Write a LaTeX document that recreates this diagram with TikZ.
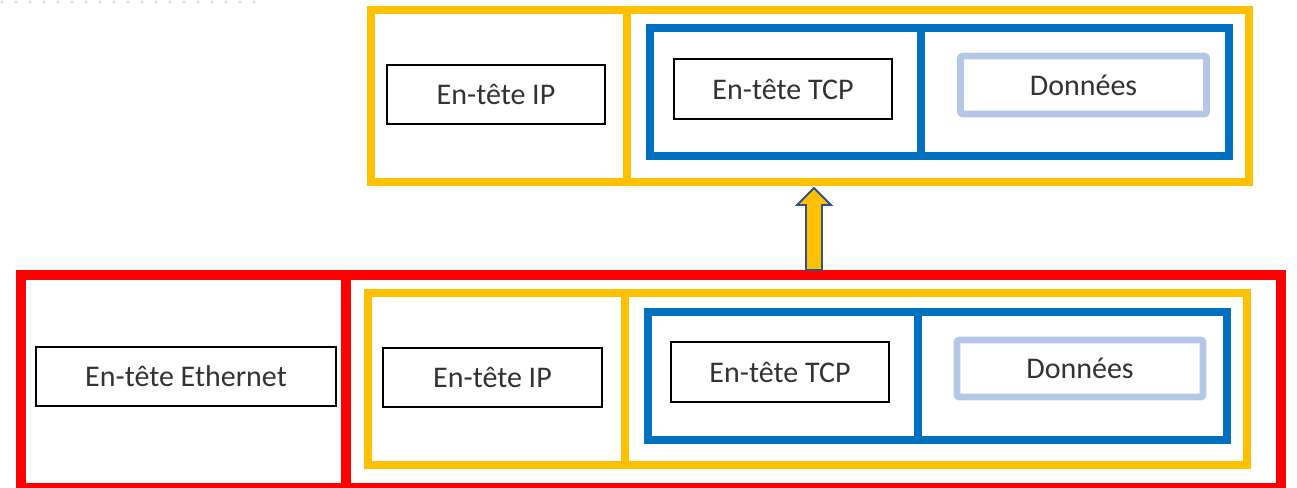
\documentclass[tikz,border=0pt]{standalone}
\usepackage{fontspec}
\setmainfont{Carlito}
\usetikzlibrary{fit}
\definecolor{ygold}{HTML}{FFC000}
\definecolor{bblue}{HTML}{0070C0}
\definecolor{lblue}{HTML}{B4C7E7}
\definecolor{rred}{HTML}{FF0000}
\definecolor{txt}{HTML}{333333}
\definecolor{arrbd}{HTML}{2F528F}
\definecolor{dotc}{HTML}{D9D9D9}
\tikzset{
  frame/.style={draw, inner sep=0pt, rectangle},
  yframe/.style={frame, draw=ygold, line width=6pt},
  bframe/.style={frame, draw=bblue, line width=6pt},
  rframe/.style={frame, draw=rred, line width=7.5pt},
  label box/.style={draw=black, line width=1.1pt, fill=white, inner sep=0pt,
    font=\fontsize{22.5}{26}\selectfont, text=txt, minimum height=44.5pt},
  data box/.style={draw=lblue, line width=5.2pt, rounded corners=2pt, fill=white,
    inner sep=0pt, font=\fontsize{22.5}{26}\selectfont, text=txt},
  up arrow/.style={fill=ygold, draw=arrbd, line width=1.4pt, line join=miter}
}
\begin{document}
\begin{tikzpicture}[x=0.75pt,y=-0.75pt]
\useasboundingbox (0,0) rectangle (1297,487);
% faint dotted guide at top-left
\foreach \i in {0,...,18} {
  \fill[dotc] ({2+14*\i},2) circle (1.3pt);
}
% ---------- upper packet (IP) ----------
\node[yframe, fit={(371,10)(627,182)}] (ipHdrT) {};
\node[yframe, fit={(627,10)(1249,182)}] (ipPayT) {};
\node[bframe, fit={(650,28)(921,156)}] (tcpHdrT) {};
\node[bframe, fit={(921,28)(1229,156)}] (tcpPayT) {};
\node[label box, minimum width=163.5pt] (ipT) at (496,94.5) {En-tête IP};
\node[label box, minimum width=163.5pt, minimum height=45pt] (tcpT) at (783,89) {En-tête TCP};
\node[data box, minimum width=184.5pt, minimum height=43.5pt] (dataT) at (1083.5,85) {Données};
% ---------- lower frame (Ethernet) ----------
\node[rframe, fit={(21,274.5)(346,488)}] (ethHdr) {};
\node[rframe, fit={(346,274.5)(1280.5,488)}] (ethPay) {};
\node[label box, minimum width=225pt] (eth) at (186,376.5) {En-tête Ethernet};
\node[yframe, fit={(368,293)(624.5,465)}] (ipHdrB) {};
\node[yframe, fit={(624.5,293)(1246.5,465)}] (ipPayB) {};
\node[bframe, fit={(647.5,312)(917.5,439.5)}] (tcpHdrB) {};
\node[bframe, fit={(917.5,312)(1226.5,439.5)}] (tcpPayB) {};
\node[label box, minimum width=164.25pt] (ipB) at (492.5,377.5) {En-tête IP};
\node[label box, minimum width=163.5pt, minimum height=45pt] (tcpB) at (780,372) {En-tête TCP};
\node[data box, minimum width=184.5pt, minimum height=42.75pt] (dataB) at (1080,368.5) {Données};
% ---------- block arrow ----------
\draw[up arrow] (806,270) -- (806,205) -- (797,205) -- (814,188) -- (831,205)
  -- (822,205) -- (822,270) -- cycle;
\end{tikzpicture}
\end{document}
